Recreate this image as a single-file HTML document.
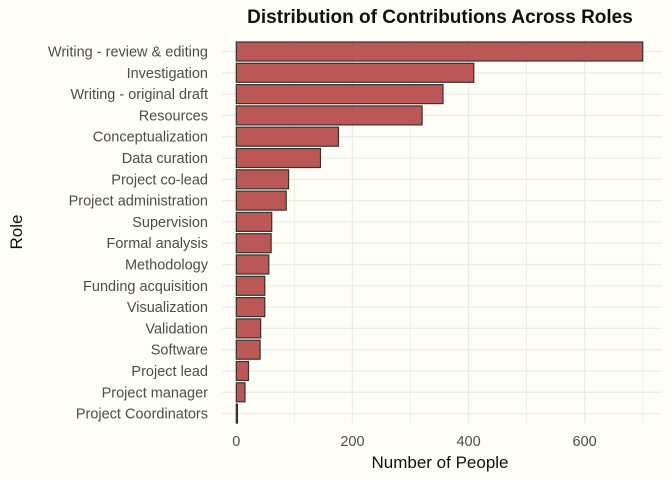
<!DOCTYPE html>
<html><head><meta charset="utf-8"><style>
body{margin:0;background:#fffff8;}
svg{display:block;font-family:"Liberation Sans",sans-serif;}
</style></head><body>
<svg id="c" width="672" height="480">
<rect width="672" height="480" fill="#fefdf6"/>
<text x="440" y="23" text-anchor="middle" font-size="19" font-weight="bold" fill="#111">Distribution of Contributions Across Roles</text>
<g id="grid"></g><g id="bars"></g><g id="ylab"></g><g id="xlab"></g>
<text x="440" y="468" text-anchor="middle" font-size="17" fill="#111">Number of People</text>
<text x="22" y="232" text-anchor="middle" font-size="17" fill="#111" transform="rotate(-90 22 232)">Role</text>
</svg>
<script>
const roles=["Writing - review & editing","Investigation","Writing - original draft","Resources","Conceptualization","Data curation","Project co-lead","Project administration","Supervision","Formal analysis","Methodology","Funding acquisition","Visualization","Validation","Software","Project lead","Project manager","Project Coordinators"];
const counts=[700,409,356,320,176,145,90,86,61,60,56,49,49,42,41,21,15,2];
const xTicks=[0,200,400,600];
const NS="http://www.w3.org/2000/svg";
const x0=236.3,k=0.5806,y0=51.5,step=21.3,bh=19;
const X=v=>x0+v*k, Y=i=>y0+i*step;
function mk(p,t,a){const e=document.createElementNS(NS,t);for(const n in a)e.setAttribute(n,a[n]);p.appendChild(e);return e;}
const g=document.getElementById('grid'),b=document.getElementById('bars'),yl=document.getElementById('ylab'),xl=document.getElementById('xlab');
for(let v=0;v<=700;v+=100){const l=mk(g,'line',{x1:X(v),x2:X(v),y1:40,y2:423,stroke:'#ebebeb','stroke-width':v%200?0.8:1.3});

}
roles.forEach((r,i)=>{const l=mk(g,'line',{x1:222,x2:662,y1:Y(i),y2:Y(i),stroke:'#ebebeb','stroke-width':1.3});


const rc=mk(b,'rect',{x:X(0),y:Y(i)-bh/2,width:Math.max(1,X(counts[i])-X(0)),height:bh,fill:'#b2413f','fill-opacity':0.88,stroke:'#333','stroke-width':1.2});


const t=mk(yl,'text',{x:208,y:Y(i)+5,'text-anchor':'end','font-size':14.5,fill:'#4d4d4d'});t.textContent=r;

});
xTicks.forEach(v=>{const t=mk(xl,'text',{x:X(v),y:446,'text-anchor':'middle','font-size':14.5,fill:'#4d4d4d'});t.textContent=v;

});
</script>
</body></html>
